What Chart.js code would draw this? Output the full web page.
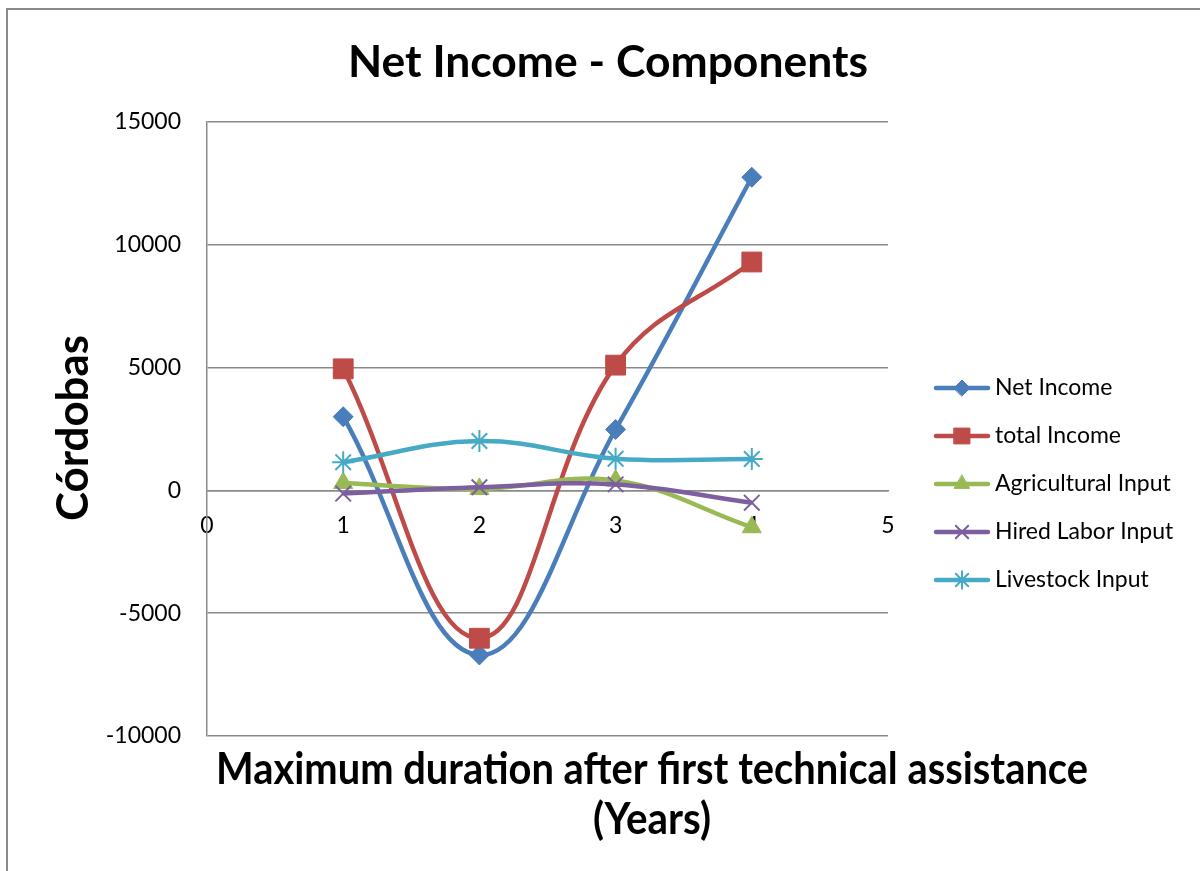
<!DOCTYPE html>
<html>
<head>
<meta charset="utf-8">
<title>Net Income - Components</title>
<script src="https://cdn.jsdelivr.net/npm/chart.js@4/dist/chart.umd.min.js"></script>
<style>
  html, body { margin: 0; padding: 0; background: #ffffff; }
  #wrap { width: 1200px; height: 871px; position: relative; }
</style>
</head>
<body>
<div id="wrap"><canvas id="chart" width="1200" height="871"></canvas></div>
<script>
// Years after the first technical assistance
const years = [1, 2, 3, 4];

// Córdobas per component
const netIncome         = [3000, -6700, 2480, 12750];
const totalIncome       = [4950, -6020, 5100, 9300];
const agriculturalInput = [300, 60, 400, -1500];
const hiredLaborInput   = [-130, 130, 245, -500];
const livestockInput    = [1150, 2010, 1290, 1280];

const seriesNames = ['Net Income', 'total Income', 'Agricultural Input', 'Hired Labor Input', 'Livestock Input'];
const xTickValues = [0, 1, 2, 3, 4, 5];
const yTickValues = [-10000, -5000, 0, 5000, 10000, 15000];

const chartTitle = 'Net Income - Components';
const yAxisTitle = 'Córdobas';
const xAxisTitleLines = ['Maximum duration after first technical assistance', '(Years)'];

const seriesValues = [netIncome, totalIncome, agriculturalInput, hiredLaborInput, livestockInput];
const seriesColors = ['#4A7EBB', '#BE4B48', '#98B954', '#7D5FA0', '#46AAC5'];
const seriesMarkers = ['rectRot', 'rect', 'triangle', 'crossRot', 'star'];
const markerRadius = [10, 14, 11, 11, 11];

const FONT = 'Lato, "Open Sans", "Noto Sans", sans-serif';

const datasets = seriesNames.map((name, i) => ({
  label: name,
  data: years.map((x, k) => ({ x: x, y: seriesValues[i][k] })),
  borderColor: seriesColors[i],
  backgroundColor: seriesColors[i],
  pointBackgroundColor: seriesColors[i],
  pointBorderColor: seriesColors[i],
  pointStyle: seriesMarkers[i],
  pointRadius: markerRadius[i],
  pointBorderWidth: (seriesMarkers[i] === 'crossRot' || seriesMarkers[i] === 'star') ? 2 : 1,
  borderWidth: 4.5,
  tension: 0.4,
  fill: false,
  clip: false,
  order: seriesNames.length - i
}));

// Text drawn horizontally scaled to a given width
function drawFitted(ctx, text, x, y, font, width, rotate) {
  ctx.save();
  ctx.font = font;
  const w = ctx.measureText(text).width;
  ctx.translate(x, y);
  if (rotate) ctx.rotate(rotate);
  ctx.scale(width / w, 1);
  ctx.textAlign = 'center';
  ctx.textBaseline = 'alphabetic';
  ctx.fillStyle = '#000000';
  ctx.fillText(text, 0, 0);
  ctx.restore();
}

const decorations = {
  id: 'decorations',
  beforeDraw(chart) {
    const ctx = chart.ctx;
    ctx.save();
    ctx.fillStyle = '#ffffff';
    ctx.fillRect(0, 0, chart.width, chart.height);
    // outer frame
    ctx.strokeStyle = '#8a8a8a';
    ctx.lineWidth = 2;
    ctx.beginPath();
    ctx.moveTo(7, chart.height + 5);
    ctx.lineTo(7, 9);
    ctx.lineTo(chart.width + 5, 9);
    ctx.stroke();
    ctx.restore();
  },
  afterDraw(chart) {
    const ctx = chart.ctx;
    const titleFont = 'bold 43px ' + FONT;
    drawFitted(ctx, chartTitle, 608, 77, titleFont, 520);
    drawFitted(ctx, xAxisTitleLines[0], 652, 784, titleFont, 872);
    drawFitted(ctx, xAxisTitleLines[1], 652, 834, titleFont, 118);
    drawFitted(ctx, yAxisTitle, 88, 428, titleFont, 186, -Math.PI / 2);

    // legend: line sample with marker, then the series name
    const rowStart = 388, rowStep = 48;
    chart.data.datasets.forEach((ds, i) => {
      const y = rowStart + i * rowStep;
      ctx.save();
      ctx.strokeStyle = ds.borderColor;
      ctx.lineWidth = 4.5;
      ctx.lineCap = 'round';
      ctx.beginPath();
      ctx.moveTo(936, y);
      ctx.lineTo(988, y);
      ctx.stroke();
      ctx.fillStyle = ds.pointBackgroundColor;
      ctx.strokeStyle = ds.pointBorderColor;
      ctx.lineWidth = ds.pointBorderWidth;
      Chart.helpers.drawPoint(ctx, {
        pointStyle: ds.pointStyle,
        radius: ds.pointRadius * 0.8,
        rotation: 0,
        borderWidth: ds.pointBorderWidth
      }, 962, y);
      ctx.font = '23px ' + FONT;
      ctx.fillStyle = '#000000';
      ctx.textAlign = 'left';
      ctx.textBaseline = 'middle';
      ctx.fillText(ds.label, 995, y);
      ctx.restore();
    });
  }
};

new Chart(document.getElementById('chart'), {
  type: 'line',
  data: { datasets: datasets },
  plugins: [decorations],
  options: {
    responsive: false,
    animation: false,
    devicePixelRatio: 1,
    layout: { padding: { left: 0, top: 122, right: 312, bottom: 135 } },
    plugins: {
      legend: { display: false },
      title: { display: false },
      tooltip: { enabled: false }
    },
    scales: {
      x: {
        type: 'linear',
        position: { y: 0 },
        min: 0,
        max: 5,
        afterFit(scale) { scale.height = 0; },
        afterBuildTicks(scale) { scale.ticks = xTickValues.map(v => ({ value: v })); },
        grid: { display: false, drawTicks: false },
        border: { display: true, color: '#8a8a8a', width: 1.5 },
        ticks: { color: '#000000', font: { family: FONT, size: 23 }, padding: 21, callback: v => String(v) }
      },
      y: {
        type: 'linear',
        min: -10000,
        max: 15000,
        afterFit(scale) { scale.width = 207; },
        afterBuildTicks(scale) { scale.ticks = yTickValues.map(v => ({ value: v })); },
        grid: { color: '#8a8a8a', lineWidth: 1.5, drawTicks: false },
        border: { display: true, color: '#8a8a8a', width: 1.5 },
        ticks: { color: '#000000', font: { family: FONT, size: 23 }, padding: 26, callback: v => String(v) }
      }
    }
  }
});
</script>
</body>
</html>
